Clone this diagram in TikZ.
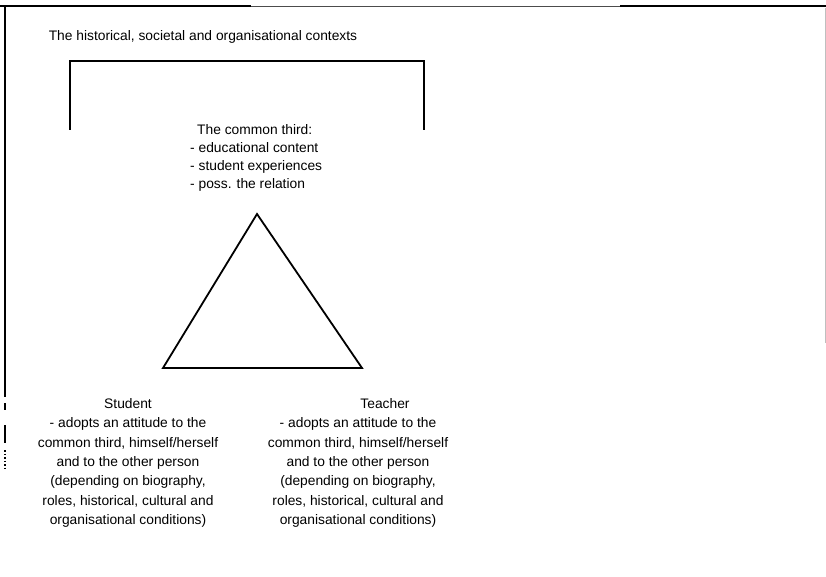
\documentclass[tikz,border=0pt]{standalone}
\usepackage{fontspec}
\setmainfont{Liberation Sans}
\begin{document}
\begin{tikzpicture}[x=1pt,y=-1pt,
  txt/.style={font=\fontsize{13.8}{19.4}\selectfont, inner sep=0pt, align=center},
  listtxt/.style={font=\fontsize{13.8}{18}\selectfont, inner sep=0pt, align=left},
  heavy/.style={line width=1.8pt, line cap=butt},
  tri/.style={line width=1.8pt, line join=miter},
  faint/.style={line width=0.9pt, black!70}]
\useasboundingbox (0,0) rectangle (826,577);

% outer frame of the page
\draw[heavy] (0,6) -- (251,6);
\draw[faint] (251,6) -- (620,6);
\draw[heavy] (620,6) -- (826,6);
\draw[line width=1.2pt] (5,6) -- (5,397);
\draw[line width=1.2pt] (5,403) -- (5,410);
\draw[line width=2pt] (5,425) -- (5,443);
\draw[line width=1.4pt, dash pattern=on 1.5pt off 2pt] (5,450) -- (5,468);
\draw[line width=0.8pt, black!25] (825,8) -- (825,343);

% contexts label and bracket
\node[txt] (ctx) at (203,37) {The historical, societal and organisational contexts};
\coordinate (bl1) at (70,130);
\coordinate (tl1) at (70,61);
\coordinate (tr1) at (424,61);
\coordinate (br1) at (424,130);
\draw[heavy] (bl1) -- (tl1) -- (tr1) -- (br1);

% the common third
\node[listtxt, anchor=north west] (third) at (190,124)
  {\hspace*{7pt}The common third:\\- educational content\\- student experiences\\- poss. the relation};

% triangle
\coordinate (apex) at (257,214);
\coordinate (left) at (163,368);
\coordinate (right) at (362,368);
\draw[tri] (apex) -- (right) -- (left) -- cycle;

% the two persons
\node[txt, anchor=north] (student) at (128,398)
  {Student\\- adopts an attitude to the\\common third, himself/herself\\and to the other person\\(depending on biography,\\roles, historical, cultural and\\organisational conditions)};
\node[txt, anchor=north] (teacher) at (358,398)
  {\hspace*{54pt}Teacher\\- adopts an attitude to the\\common third, himself/herself\\and to the other person\\(depending on biography,\\roles, historical, cultural and\\organisational conditions)};
\end{tikzpicture}
\end{document}
